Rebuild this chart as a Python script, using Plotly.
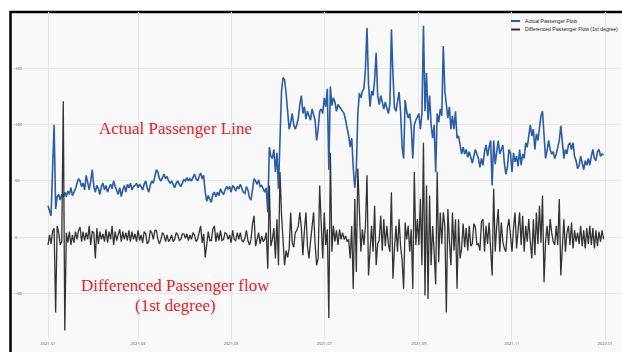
import pandas as pd
import plotly.graph_objects as go

dates = pd.date_range("2021-01-01", periods=365, freq="D")

actual_flow = [
    28, 22, 19, 60, 100, 25, 36, 38, 33, 38,
    36, 40, 36, 41, 38, 44, 37, 40, 43, 48,
    52, 50, 45, 48, 42, 55, 48, 42, 50, 60,
    45, 40, 46, 43, 38, 45, 48, 42, 46, 40,
    44, 47, 43, 50, 45, 42, 38, 44, 36, 42,
    46, 40, 47, 44, 48, 42, 45, 46, 48, 44,
    47, 45, 42, 47, 50, 44, 40, 46, 50, 48,
    54, 60, 58, 52, 50, 54, 56, 52, 54, 50,
    48, 50, 46, 44, 48, 50, 47, 45, 48, 51,
    50, 53, 50, 52, 50, 54, 56, 52, 50, 54,
    57, 52, 55, 40, 32, 37, 34, 31, 38, 40,
    36, 40, 37, 43, 40, 38, 42, 45, 43, 45,
    40, 46, 44, 41, 45, 43, 47, 44, 40, 39,
    45, 42, 35, 33, 45, 52, 50, 47, 51, 45,
    46, 42, 40, 44, 22, 80, 72, 70, 78, 58,
    75, 43, 99, 130, 142, 140, 128, 110, 96, 102,
    110, 100, 96, 100, 106, 118, 126, 110, 116, 105,
    112, 108, 104, 114, 110, 104, 86, 96, 112, 114,
    110, 124, 116, 132, 60, 134, 117, 124, 120, 112,
    118, 116, 114, 112, 110, 104, 98, 90, 80, 88,
    62, 44, 60, 110, 128, 124, 130, 132, 150, 186,
    136, 116, 130, 126, 140, 164, 126, 118, 126, 120,
    114, 120, 116, 110, 118, 185, 145, 115, 112, 120,
    129, 112, 80, 70, 122, 112, 106, 110, 98, 70,
    100, 104, 108, 110, 96, 110, 188, 112, 146, 104,
    126, 100, 88, 100, 58, 110, 102, 114, 108, 170,
    130, 120, 106, 116, 96, 108, 96, 112, 88, 90,
    80, 74, 80, 74, 78, 71, 76, 70, 66, 72,
    78, 74, 70, 62, 70, 64, 76, 82, 72, 80,
    86, 46, 86, 65, 74, 86, 74, 78, 82, 66,
    56, 62, 78, 75, 58, 75, 67, 72, 63, 78,
    64, 74, 70, 84, 80, 90, 100, 90, 96, 78,
    92, 86, 98, 108, 112, 86, 70, 77, 86, 78,
    74, 76, 70, 74, 80, 86, 99, 80, 70, 78,
    74, 82, 84, 78, 84, 72, 68, 61, 64, 72,
    66, 60, 68, 64, 70, 64, 72, 78, 70, 68,
    76, 78, 72, 74, 73,
]

diff_flow = [
    -7, 2, -6, 5, 8, -67, 10, 4, -7, -4,
    121, -83, 4, -5, 5, -7, 2, -5, 5, -2,
    6, 9, -4, 5, -3, 4, -2, 10, -7, 5,
    4, -19, 8, -6, 5, -2, 3, -4, 7, -5,
    5, -2, 10, -7, 5, -3, 2, 7, -4, 5,
    -2, 4, -3, 6, -4, 5, -2, 3, -4, 6,
    -3, 2, -5, 5, 3, -6, -4, 6, 4, -2,
    6, 6, -2, -6, -2, 4, 2, -4, 2, -4,
    -2, 2, -4, -2, 4, 2, -3, -2, 3, 3,
    -1, 3, -3, 2, -2, 4, 2, -4, -2, 4,
    10, -5, 3, -18, -8, 5, -3, -3, 7, 10,
    -4, 4, -3, 6, -3, -2, 4, 3, -2, 2,
    -5, 6, -2, -3, 4, -2, 4, -3, -4, -1,
    6, -3, -7, -2, 12, 19, -8, -3, 4, -6,
    1, -4, -2, 4, -28, 46, -8, -2, 8, -19,
    16, -25, 58, 20, -5, -25, -12, -18, -10, 22,
    -5, -9, 4, 6, 10, 22, 8, -16, 6, 22,
    -8, -19, -4, 10, 22, -6, -25, -19, 46, 12,
    -19, 22, -7, 7, -72, 75, -13, 10, -4, 6,
    -7, 7, -2, 4, -2, 1, -4, -2, -19, 10,
    -46, 34, -31, 61, 16, -13, 7, -7, 10, 55,
    -34, -7, 10, -13, 28, -25, -6, -3, 19, -12,
    16, -8, 10, -6, -13, 40, -37, -10, 10, -13,
    16, -8, -20, -46, 13, -2, 10, -13, 7, -46,
    58, -7, 16, -7, 34, -25, 84, -52, 46, -55,
    37, -25, 10, -13, -42, 58, -22, 22, -6, 22,
    10, -67, 25, -4, -25, 22, -12, 16, -46, 16,
    -19, -10, 12, -9, 8, -12, 10, -8, -6, 12,
    9, -7, -6, -12, 14, 16, -13, 10, -6, 13,
    -10, -34, 43, -13, 10, 25, -13, 13, -4, -10,
    -13, 8, 16, -3, -13, 8, 22, -10, 7, 22,
    -7, 19, -13, 10, -4, 16, -4, -19, 16, -16,
    22, -6, 28, -5, 37, -40, -4, 10, -7, 16,
    4, -4, -7, 10, -7, 34, -34, -7, 16, -13,
    4, 10, -7, 13, -10, 6, -4, 4, -6, 10,
    -8, 6, -10, 8, -6, 10, -7, 8, -10, 6,
    -8, 5, -4, 6, -2,
]

y_ticks = [-50, 0, 50, 100, 150, 200]
series_names = ["Actual Passenger Flow", "Differenced Passenger Flow (1st degree)"]
series_colors = ["#2a5ca8", "#333333"]

W, H = 622, 352
ML, MR, MT, MB = 12, 0, 12, 12
PW, PH = W - ML - MR, H - MT - MB


def px(x):
    return (x - ML) / PW


def py(y):
    return 1 - (y - MT) / PH


fig = go.Figure()
fig.add_trace(go.Scatter(x=dates, y=actual_flow, mode="lines", name=series_names[0],
                         line=dict(color=series_colors[0], width=1.6), showlegend=False))
fig.add_trace(go.Scatter(x=dates, y=diff_flow, mode="lines", name=series_names[1],
                         line=dict(color=series_colors[1], width=1.3), showlegend=False))

shapes = [
    dict(type="rect", xref="paper", yref="paper", x0=px(10.5), x1=1.3, y0=-0.3, y1=1.0,
         line=dict(color="black", width=2.5), fillcolor="#f9f9f9", layer="below"),
]
annotations = []
for i, (nm, col) in enumerate(zip(series_names, series_colors)):
    yy = 21 + i * 8.5
    shapes.append(dict(type="line", xref="paper", yref="paper", x0=px(511), x1=px(520),
                       y0=py(yy), y1=py(yy), line=dict(color=col, width=2)))
    annotations.append(dict(text=nm, xref="paper", yref="paper", x=px(523), y=py(yy),
                            xanchor="left", yanchor="middle", showarrow=False,
                            font=dict(size=5.1, color="#222", family="Liberation Sans, Arial")))

red = "#e8202a"
serif = "Liberation Serif, Times New Roman, serif"
for txt, cx, cy in [("Actual Passenger Line", 175, 128.5),
                    ("Differenced Passenger flow", 175, 285.5),
                    ("(1st degree)", 175, 305.5)]:
    annotations.append(dict(text=txt, xref="paper", yref="paper", x=px(cx), y=py(cy),
                            xanchor="center", yanchor="middle", showarrow=False,
                            font=dict(size=17, color=red, family=serif)))

fig.update_layout(
    width=W, height=H,
    margin=dict(l=ML, r=MR, t=MT, b=MB),
    paper_bgcolor="white", plot_bgcolor="rgba(0,0,0,0)",
    shapes=shapes, annotations=annotations, showlegend=False,
    xaxis=dict(type="date", range=["2020-12-08 09:50", "2022-01-12 02:00"],
               tick0="2021-01-01", dtick="M2", tickformat="%Y-%m",
               showgrid=True, gridcolor="#e6e6e6", gridwidth=1, zeroline=False,
               showline=False, ticks="", tickfont=dict(size=4, color="#555")),
    yaxis=dict(range=[-91.5, 200.3], tickvals=y_ticks, ticklabelposition="inside",
               showgrid=True, gridcolor="#e6e6e6", gridwidth=1, zeroline=False,
               showline=False, ticks="", tickfont=dict(size=4, color="#555")),
)

fig.write_html("out.html", config={"displayModeBar": False},
               post_script="document.body.style.margin='0';document.body.style.overflow='hidden';")
